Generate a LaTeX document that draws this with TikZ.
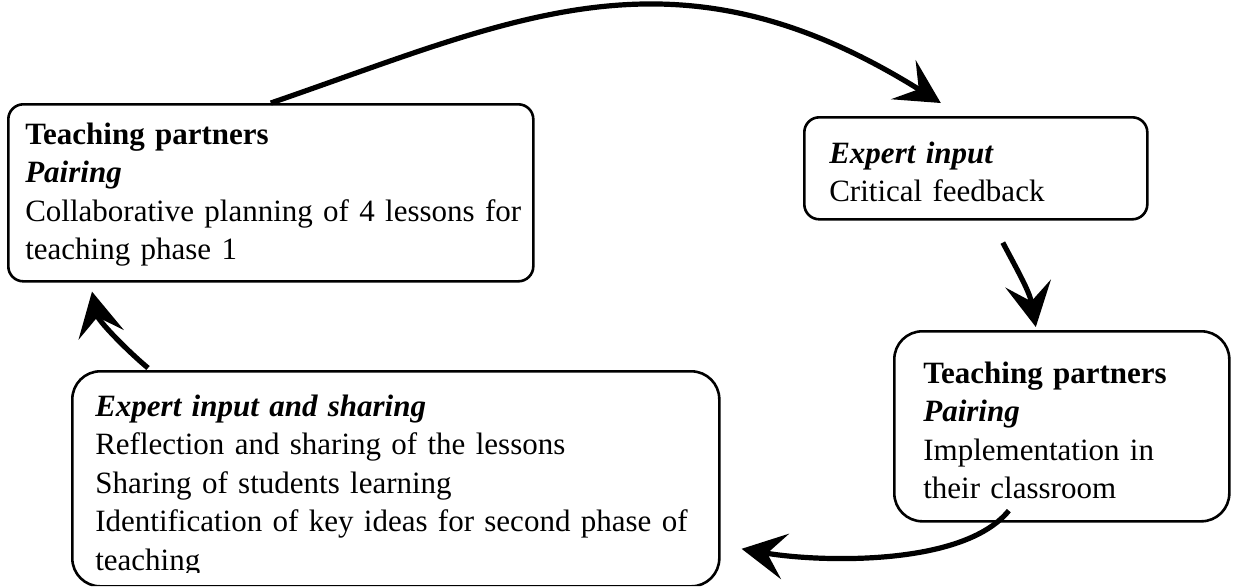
\documentclass[tikz,border=0pt]{standalone}
\usepackage{fontspec}
\setmainfont{Liberation Serif}
\usetikzlibrary{arrows.meta}

\begin{document}
\begin{tikzpicture}[x=0.5pt, y=-0.5pt,
            font = \fontsize{15.5}{19.25}\selectfont,
            box/.style = {draw, line width=1.3pt, fill=white,
                anchor=north west, align=left, inner ysep=0pt},
            flow/.style = {line width=2.6pt,
                -{Stealth[length=22pt, width=23pt, inset=9pt]}}]
            \useasboundingbox (0,0) rectangle (1235,586);
            \node[box, rounded corners=7.5pt, inner xsep=8.5pt, text width=245.5pt,
                text height=20pt, text depth=68.5pt] (b1) at (7,103)
                {\textbf{Teaching partners}\\ \textbf{\textit{Pairing}}\\
                 \mbox{Collaborative planning of 4 lessons for}\\ teaching phase 1};
            \node[box, rounded corners=7.5pt, inner xsep=12.5pt, text width=146.5pt,
                text height=23pt, text depth=28pt] (b2) at (803,116)
                {\textbf{\textit{Expert input}}\\ Critical feedback};
            \node[box, rounded corners=14pt, inner xsep=14.5pt, text width=138.5pt,
                text height=26pt, text depth=69pt] (b3) at (893,330)
                {\textbf{Teaching partners}\\ \textbf{\textit{Pairing}}\\
                 Implementation in\\ their classroom};
            % last line runs past the bottom of the frame and is cut off
            \begin{scope}
                \clip (0,0) rectangle (1235,572) (0,572) rectangle (90,586)
                    (700,572) rectangle (1235,586) (0,580) rectangle (1235,586);
                \node[box, rounded corners=14pt, inner xsep=11.5pt, text width=300.5pt,
                    text height=22.5pt, text depth=85pt] (b4) at (71,370)
                    {\textbf{\textit{Expert input and sharing}}\\
                     Reflection and sharing of the lessons\\
                     Sharing of students learning\\
                     Identification of key ideas for second phase of\\ teaching};
            \end{scope}
            \path[flow]
                (b1.north) edge[out=19, in=148, in looseness=1.2] ([shift={(-35,-13)}]b2.north)
                ([shift={(27,22)}]b2.south) edge[out=-62, in=100] ([shift={(-26,-3)}]b3.north)
                ([shift={(-53,-12)}]b3.south) edge[out=-129, in=-10, looseness=0.7] ([shift={(21,70)}]b4.east)
                ([shift={(77,-2)}]b4.north west) edge[out=140, in=-78, looseness=0.8] ([shift={(85,9)}]b1.south west);
\end{tikzpicture}
\end{document}
